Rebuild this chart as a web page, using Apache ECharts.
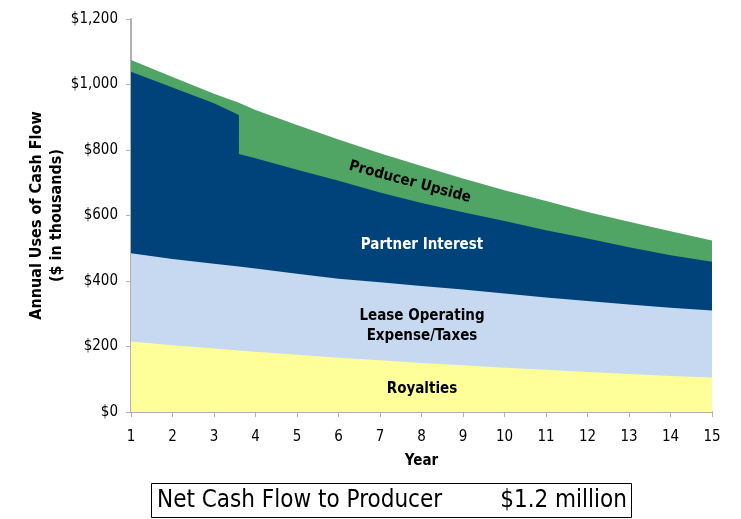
<!DOCTYPE html>
<html>
<head>
<meta charset="utf-8">
<script src="https://cdn.jsdelivr.net/npm/echarts@6/dist/echarts.min.js"></script>
<style>
html,body{margin:0;padding:0;background:#fff;}
#c{width:741px;height:519px;}
</style>
</head>
<body>
<div id="c"></div>
<script>
// x positions (year); 3.6 appears twice to draw the step at partner payout
var years      = [1, 2, 3, 3.6, 3.6, 4, 5, 6, 7, 8, 9, 10, 11, 12, 13, 14, 15];
var royalties  = [215, 204, 194, 188, 188, 184, 175, 166, 158, 150, 143, 135, 129, 122, 116, 110, 105];
var leaseOpex  = [270, 263, 259, 256, 256, 254, 247, 241, 238, 235, 231, 227, 221, 217, 212, 208, 205];
var partner    = [554, 524, 490, 463, 344, 337, 318, 299, 274, 253, 236, 221, 205, 191, 175, 161, 149];
var upside     = [36, 32, 29, 37, 156, 147, 136, 126, 120, 113, 103, 94, 89, 81, 78, 73, 65];
var yTicks     = [0, 200, 400, 600, 800, 1000, 1200];
var xTicks     = [1, 2, 3, 4, 5, 6, 7, 8, 9, 10, 11, 12, 13, 14, 15];

var FONT = "Tahoma, 'DejaVu Sans Condensed', 'DejaVu Sans', sans-serif";

// cumulative tops (stack built by hand so each band sits on the one below)
var layers = [royalties, leaseOpex, partner, upside];
var cum = [];
layers.forEach(function (arr, k) {
  cum.push(arr.map(function (v, i) { return v + (k ? cum[k - 1][i] : 0); }));
});

function areaSeries(name, vals, color, z) {
  return {
    name: name, type: 'line', z: z,
    data: years.map(function (x, i) { return [x, vals[i]]; }),
    showSymbol: false, symbol: 'none', smooth: false,
    lineStyle: { width: 0 }, areaStyle: { color: color, opacity: 1, origin: 'start' },
    itemStyle: { color: color }, silent: true
  };
}

var chart = echarts.init(document.getElementById('c'), null, { renderer: 'canvas' });
chart.setOption({
  animation: false,
  backgroundColor: '#ffffff',
  grid: { left: 131, right: 29, top: 19, bottom: 107 },
  xAxis: {
    type: 'value', min: xTicks[0], max: xTicks[xTicks.length - 1], interval: 1,
    name: 'Year', nameLocation: 'middle', nameGap: 42,
    nameTextStyle: { fontFamily: FONT, fontWeight: 'bold', fontSize: 15, color: '#000' },
    axisLine: { onZero: false, lineStyle: { color: '#b0b0b0', width: 2 } },
    axisTick: { show: true, length: 5, lineStyle: { color: '#b0b0b0' } },
    axisLabel: { fontFamily: FONT, fontSize: 15, color: '#000', margin: 18 },
    splitLine: { show: false }
  },
  yAxis: {
    type: 'value', min: yTicks[0], max: yTicks[yTicks.length - 1], interval: 200,
    name: 'Annual Uses of Cash Flow\n($ in thousands)', nameLocation: 'middle', nameGap: 64,
    nameMoveOverlap: false,
    nameTextStyle: { fontFamily: FONT, fontWeight: 'bold', fontSize: 16, color: '#000', lineHeight: 20 },
    axisLine: { show: true, lineStyle: { color: '#b0b0b0', width: 2 } },
    axisTick: { show: true, length: 5, lineStyle: { color: '#b0b0b0' } },
    axisLabel: {
      fontFamily: FONT, fontSize: 15, color: '#000', margin: 13,
      formatter: function (v) { return '$' + v.toLocaleString('en-US'); }
    },
    splitLine: { show: false }
  },
  series: [
    areaSeries('Producer Upside', cum[3], '#50a565', 1),
    areaSeries('Partner Interest', cum[2], '#00427a', 2),
    areaSeries('Lease Operating Expense/Taxes', cum[1], '#c6d9f0', 3),
    areaSeries('Royalties', cum[0], '#ffff99', 4)
  ],
  graphic: [
    { type: 'text', x: 410, y: 182, rotation: -15 * Math.PI / 180, z: 100,
      style: { text: 'Producer Upside', font: 'bold 15px ' + FONT, fill: '#000', align: 'center', verticalAlign: 'middle' } },
    { type: 'text', x: 422, y: 245, z: 100,
      style: { text: 'Partner Interest', font: 'bold 15px ' + FONT, fill: '#fff', align: 'center', verticalAlign: 'middle' } },
    { type: 'text', x: 422, y: 326, z: 100,
      style: { text: 'Lease Operating\nExpense/Taxes', font: 'bold 15px ' + FONT, lineHeight: 20, fill: '#000', align: 'center', verticalAlign: 'middle' } },
    { type: 'text', x: 422, y: 389, z: 100,
      style: { text: 'Royalties', font: 'bold 15px ' + FONT, fill: '#000', align: 'center', verticalAlign: 'middle' } },
    { type: 'rect', shape: { x: 151.5, y: 483.5, width: 480, height: 34 },
      style: { fill: '#fff', stroke: '#000', lineWidth: 1 } },
    { type: 'text', x: 157, y: 501,
      style: { text: 'Net Cash Flow to Producer', font: '24px ' + FONT, fill: '#000', align: 'left', verticalAlign: 'middle' } },
    { type: 'text', x: 627, y: 501,
      style: { text: '$1.2 million', font: '24px ' + FONT, fill: '#000', align: 'right', verticalAlign: 'middle' } }
  ]
});
</script>
</body>
</html>
